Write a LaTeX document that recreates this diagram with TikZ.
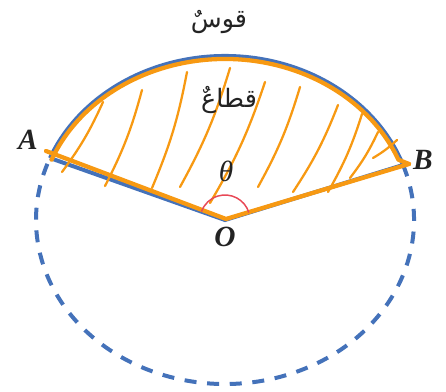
\documentclass[tikz,border=0pt]{standalone}
\usepackage{fontspec}
\setmainfont{Liberation Serif}
\newfontfamily\arabicfont[Script=Arabic]{DejaVu Sans}
\TeXXeTstate=1
\usetikzlibrary{calc}
\definecolor{steel}{RGB}{68,114,186}
\definecolor{amber}{RGB}{247,153,18}
\definecolor{rose}{RGB}{232,72,86}
\definecolor{ink}{RGB}{35,35,35}
\tikzset{
  rim/.style={draw=steel,line width=3pt},
  rim dashed/.style={rim,dash pattern=on 9pt off 8pt},
  ink line/.style={draw=amber,line width=3.2pt,line cap=round,line join=round},
  hatch/.style={draw=amber,line width=1.7pt,line cap=round},
  pt label/.style={font=\fontsize{22}{24}\selectfont\bfseries\itshape,text=ink},
  ar label/.style={font=\fontsize{19}{22}\selectfont\arabicfont,text=ink},
}

\begin{document}
\begin{tikzpicture}[x=0.75pt,y=-0.75pt]
  \useasboundingbox (0,0) rectangle (446,392);
  \coordinate (O) at (225,220);
  \coordinate (A) at ($(O)+(202.2:189 and 164)$);
  \coordinate (B) at ($(O)+(340.4:189 and 164)$);
  % the circle
  \draw[rim dashed] (B) arc[start angle=340.4,end angle=562.2,x radius=189,y radius=164];
  \draw[rim] (A) arc[start angle=202.2,end angle=340.4,x radius=189,y radius=164];
  \draw[rim] (A) -- (O) -- (B);
  % hand drawn sector
  \coordinate (a1) at (46,151);
  \coordinate (o1) at (226,219);
  \coordinate (b1) at (409,164);
  \draw[ink line] (a1) -- (o1) -- (b1);
  \draw[ink line] ($(O)+(202:187 and 161)$) arc[start angle=202,end angle=338,x radius=187,y radius=161] -- (b1);
  \foreach \p/\q in {{62,172}/{103,102},{105,186}/{142,90},{152,188}/{187,72},
    {180,187}/{230,68},{210,203}/{265,82},{258,187}/{300,87},{293,192}/{338,105},
    {328,192}/{362,114},{350,178}/{378,132},{373,158}/{397,140}}
    \draw[hatch] (\p) to[bend right=6] (\q);
  % angle
  \draw[rose,line width=1.1pt] ($(O)+(-17.5:25)$) arc[start angle=-17.5,end angle=-160.3,radius=25];
  % labels
  \node[pt label] (lA) at (28,140) {A};
  \node[pt label] (lB) at (423,160) {B};
  \node[pt label] (lO) at (225,237) {O};
  \node[font=\fontsize{22}{24}\selectfont\itshape,text=ink] (lth) at (226,171) {θ};
  \node[ar label] (arc) at (219,22) {\beginR قوسٌ\endR};
  \node[ar label] (sector) at (229,100) {\beginR قطاعٌ\endR};
\end{tikzpicture}
\end{document}
